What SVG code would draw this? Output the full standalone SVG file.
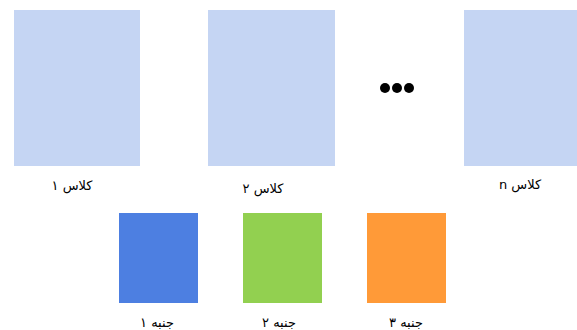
<svg xmlns="http://www.w3.org/2000/svg" width="577" height="330" viewBox="0 0 577 330">
<style>
.cls{fill:#C5D5F3}
.lbl{font-family:"DejaVu Sans","Noto Sans",sans-serif;font-size:13px;fill:#000;text-anchor:middle}
</style>
<rect width="577" height="330" fill="#fff"/>
<g id="class1"><rect class="cls" x="14" y="10" width="126" height="156"/><text class="lbl" x="72" y="190" direction="rtl">کلاس ۱</text></g>
<g id="class2"><rect class="cls" x="208" y="10" width="127" height="156"/><text class="lbl" x="263" y="193" direction="rtl">کلاس ۲</text></g>
<g id="dots"><circle cx="385" cy="88" r="5"/><circle cx="397" cy="88" r="5"/><circle cx="409" cy="88" r="5"/></g>
<g id="classn"><rect class="cls" x="464" y="10" width="113" height="156"/><text class="lbl" x="520" y="189" direction="rtl">کلاس n</text></g>
<g id="aspect1"><rect x="119" y="213" width="79" height="90" fill="#4D7FE1"/><text class="lbl" x="157" y="327" direction="rtl">جنبه ۱</text></g>
<g id="aspect2"><rect x="243" y="213" width="79" height="90" fill="#92D050"/><text class="lbl" x="279" y="327" direction="rtl">جنبه ۲</text></g>
<g id="aspect3"><rect x="367" y="213" width="79" height="90" fill="#FF9A38"/><text class="lbl" x="406" y="327" direction="rtl">جنبه ۳</text></g>
<g id="connectors"/>
</svg>
